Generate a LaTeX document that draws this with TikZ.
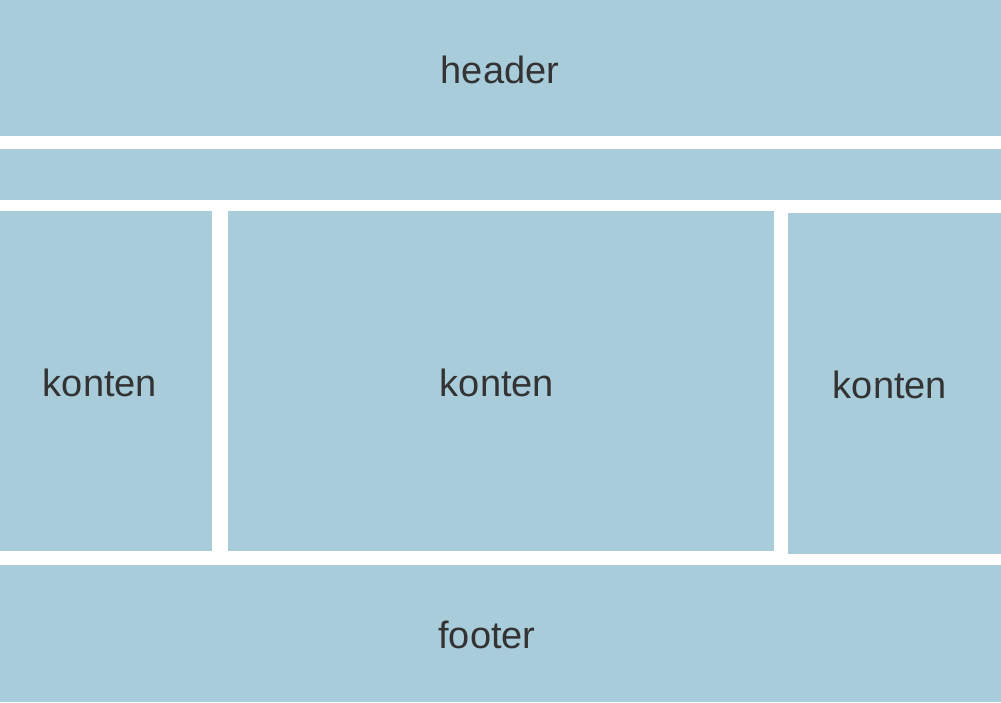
\documentclass[tikz,border=0pt]{standalone}
\usepackage{fontspec}
\setmainfont{Liberation Sans}
\definecolor{boxc}{HTML}{A9CCDB}
\definecolor{txt}{HTML}{333333}
\begin{document}
\begin{tikzpicture}[x=1pt,y=-1pt,
  blk/.style={fill=boxc,draw=none},
  lbl/.style={text=txt,font=\fontsize{38}{40}\selectfont,inner sep=0pt}]
\useasboundingbox (0,0) rectangle (1001,702);
\fill[white] (0,0) rectangle (1001,702);
\fill[blk] (0,0) rectangle (1001,136);
\fill[blk] (0,149) rectangle (1001,200);
\fill[blk] (0,211) rectangle (212,551);
\fill[blk] (228,211) rectangle (774,551);
\fill[blk] (788,213) rectangle (1001,554);
\fill[blk] (0,565) rectangle (1001,702);
\node[lbl] (h) at (500,70) {header};
\node[lbl] (k1) at (100,383) {konten};
\node[lbl] (k2) at (497,383) {konten};
\node[lbl] (k3) at (890,385) {konten};
\node[lbl] (f) at (487,635) {footer};
\end{tikzpicture}
\end{document}
